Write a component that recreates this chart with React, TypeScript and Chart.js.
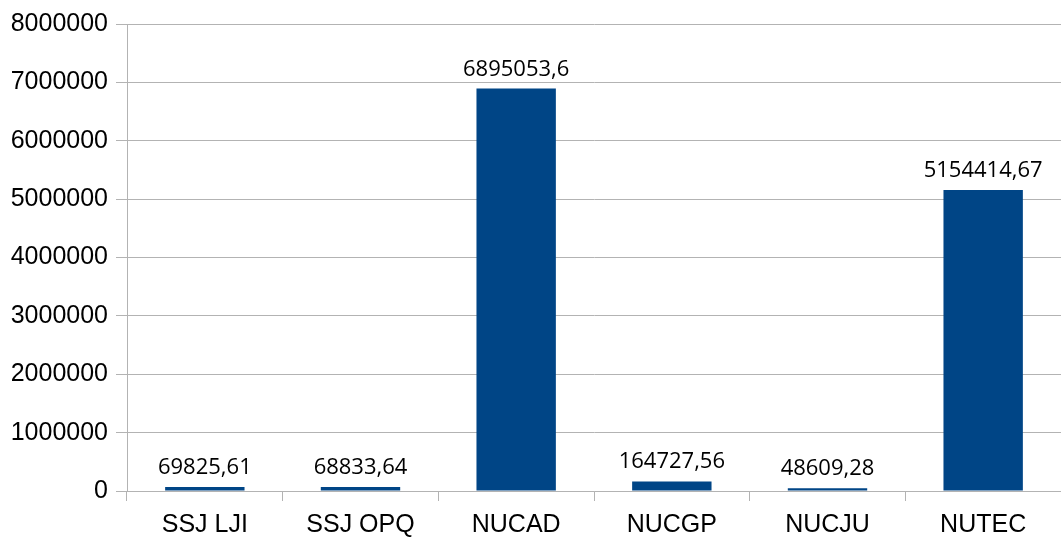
import React, { useEffect, useRef } from "react";
import { Chart, registerables } from "chart.js";

Chart.register(...registerables);

const categories = ["SSJ LJI", "SSJ OPQ", "NUCAD", "NUCGP", "NUCJU", "NUTEC"];
const values = [69825.61, 68833.64, 6895053.6, 164727.56, 48609.28, 5154414.67];
const valueLabels = ["69825,61", "68833,64", "6895053,6", "164727,56", "48609,28", "5154414,67"];
const yMin = 0;
const yMax = 8000000;
const yStep = 1000000;

const labelPlugin = {
  id: "valueLabels",
  afterDatasetsDraw(chart: any) {
    const ctx = chart.ctx;
    const meta = chart.getDatasetMeta(0);
    ctx.save();
    ctx.font = '22px "Open Sans"';
    ctx.fillStyle = "#000000";
    ctx.textAlign = "center";
    ctx.textBaseline = "alphabetic";
    meta.data.forEach((bar: any, i: number) => {
      ctx.fillText(valueLabels[i], bar.x, bar.y - 13);
    });
    ctx.restore();
  },
};

export default function App() {
  const canvasRef = useRef<HTMLCanvasElement | null>(null);

  useEffect(() => {
    if (!canvasRef.current) return;
    const chart = new Chart(canvasRef.current, {
      type: "bar",
      data: {
        labels: categories,
        datasets: [
          {
            data: values,
            backgroundColor: "#004586",
            borderWidth: 0,
            barPercentage: 0.51,
            categoryPercentage: 1,
          },
        ],
      },
      options: {
        animation: false,
        responsive: false,
        maintainAspectRatio: false,
        layout: { padding: { top: 24, right: 0, bottom: 0, left: 0 } },
        plugins: {
          legend: { display: false },
          tooltip: { enabled: false },
          title: { display: false },
        },
        scales: {
          x: {
            offset: true,
            grid: {
              offset: true,
              drawOnChartArea: false,
              drawTicks: true,
              tickLength: 10,
              color: "#b3b3b3",
              lineWidth: 1,
            },
            border: { display: true, color: "#b3b3b3" },
            ticks: {
              color: "#000000",
              font: { family: '"Liberation Sans", Arial, sans-serif', size: 25 },
              padding: 9,
              maxRotation: 0,
              autoSkip: false,
            },
            afterFit(scale: any) {
              scale.height = 46;
            },
          },
          y: {
            min: yMin,
            max: yMax,
            ticks: {
              stepSize: yStep,
              color: "#000000",
              font: { family: '"Liberation Sans", Arial, sans-serif', size: 25 },
              padding: 8,
              callback: (v: any) => String(v),
            },
            grid: {
              color: "#b3b3b3",
              lineWidth: 1,
              drawTicks: true,
              tickLength: 11,
            },
            border: { display: true, color: "#b3b3b3" },
            afterFit(scale: any) {
              scale.width = 127;
            },
          },
        },
      },
      plugins: [labelPlugin],
    });
    return () => chart.destroy();
  }, []);

  return (
    <div style={{ position: "fixed", left: 0, top: 0, width: 1061, height: 537, background: "#ffffff" }}>
      <canvas ref={canvasRef} width={1061} height={537} style={{ display: "block" }} />
    </div>
  );
}
